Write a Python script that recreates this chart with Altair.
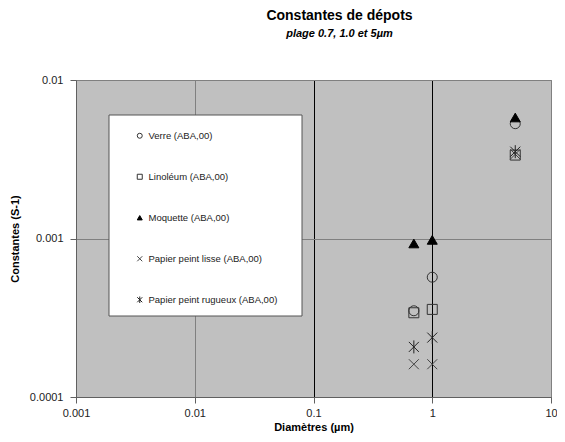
import altair as alt
import pandas as pd

# ---- data ----
series_names = ["Verre (ABA,00)", "Linoléum (ABA,00)", "Moquette (ABA,00)",
                "Papier peint lisse (ABA,00)", "Papier peint rugueux (ABA,00)"]
diametres = [0.7, 1.0, 5.0]
verre = [0.00035, 0.00057, 0.0053]
linoleum = [0.00034, 0.000357, 0.00336]
moquette = [0.00093, 0.00098, 0.0058]
papier_lisse = [0.000161, 0.000161, 0.0034]
papier_rugueux = [0.000207, 0.000237, 0.00353]
x_ticks = [0.001, 0.01, 0.1, 1, 10]
y_ticks = [0.0001, 0.001, 0.01]

values = [verre, linoleum, moquette, papier_lisse, papier_rugueux]
rows = []
for name, vals in zip(series_names, values):
    for d, v in zip(diametres, vals):
        rows.append({"serie": name, "d": d, "k": v})
df = pd.DataFrame(rows)

FONT = "Liberation Sans"
X_PATH = "M-1,-1L1,1M-1,1L1,-1"
AST_PATH = "M-1,-1L1,1M-1,1L1,-1M0,-1.3L0,1.3"

edge_grid = alt.condition(
    "datum.value == 0.001 || datum.value == 10 || datum.value == 0.0001 || datum.value == 0.01",
    alt.value("#808080"), alt.value("#000000"))

# legend box (decoration)
box = alt.Chart(pd.DataFrame({"a": [0]})).mark_rect(
    fill="white", stroke="#555555", strokeWidth=1
).encode(x=alt.value(33), x2=alt.value(226), y=alt.value(35), y2=alt.value(236))

points = alt.Chart(df).mark_point(size=100, strokeWidth=1, opacity=1).encode(
    x=alt.X("d:Q", title="Diamètres (µm)",
            scale=alt.Scale(type="log", domain=[0.001, 10], nice=False),
            axis=alt.Axis(values=x_ticks, format="~g", grid=True, gridColor=edge_grid,
                          gridOpacity=1, tickSize=6, labelPadding=4,
                          titlePadding=3, labelFlush=False)),
    y=alt.Y("k:Q", title="Constantes (S-1)",
            scale=alt.Scale(type="log", domain=[0.0001, 0.01], nice=False),
            axis=alt.Axis(values=y_ticks, format="~g", grid=True, gridColor=edge_grid,
                          gridOpacity=1, tickSize=6, labelPadding=7,
                          titlePadding=9, labelFlush=False)),
    shape=alt.Shape("serie:N", title=None,
                    scale=alt.Scale(domain=series_names,
                                    range=["circle", "square", "triangle-up", X_PATH, AST_PATH])),
    fill=alt.Fill("serie:N", title=None,
                  scale=alt.Scale(domain=series_names,
                                  range=["transparent", "transparent", "#000000",
                                         "transparent", "transparent"])),
    stroke=alt.Stroke("serie:N", title=None,
                      scale=alt.Scale(domain=series_names,
                                      range=["#333333", "#333333", "#000000",
                                             "#444444", "#222222"])),
)

chart = alt.layer(box, points).properties(
    width=475, height=317,
    autosize=alt.AutoSizeParams(type="none"),
    padding={"left": 68, "top": 72, "right": 6, "bottom": 36},
    title=alt.TitleParams(
        text="Constantes de dépots",
        subtitle="plage 0.7, 1.0 et 5µm",
        font=FONT, fontSize=14, fontWeight="bold", color="#000000",
        subtitleFont=FONT, subtitleFontSize=11, subtitleFontStyle="italic",
        subtitleFontWeight="bold", subtitleColor="#000000",
        anchor="middle", dx=26, offset=35, subtitlePadding=5,
    ),
).configure_view(
    fill="#c0c0c0", stroke="#808080", strokeWidth=1
).configure_axis(
    labelFont=FONT, labelFontSize=11, labelColor="#222222",
    titleFont=FONT, titleFontSize=11, titleFontWeight="bold", titleColor="#000000",
    domainColor="#606060", tickColor="#606060", gridWidth=1,
).configure_legend(
    orient="none", legendX=59, legendY=51,
    padding=0, rowPadding=30, symbolSize=25, symbolStrokeWidth=1,
    labelFont=FONT, labelFontSize=9.5, labelColor="#222222", labelOffset=4,
    labelLimit=300, fillColor="transparent", strokeColor="transparent",
)

chart.save("out.html", embed_options={"renderer": "svg", "actions": False})
